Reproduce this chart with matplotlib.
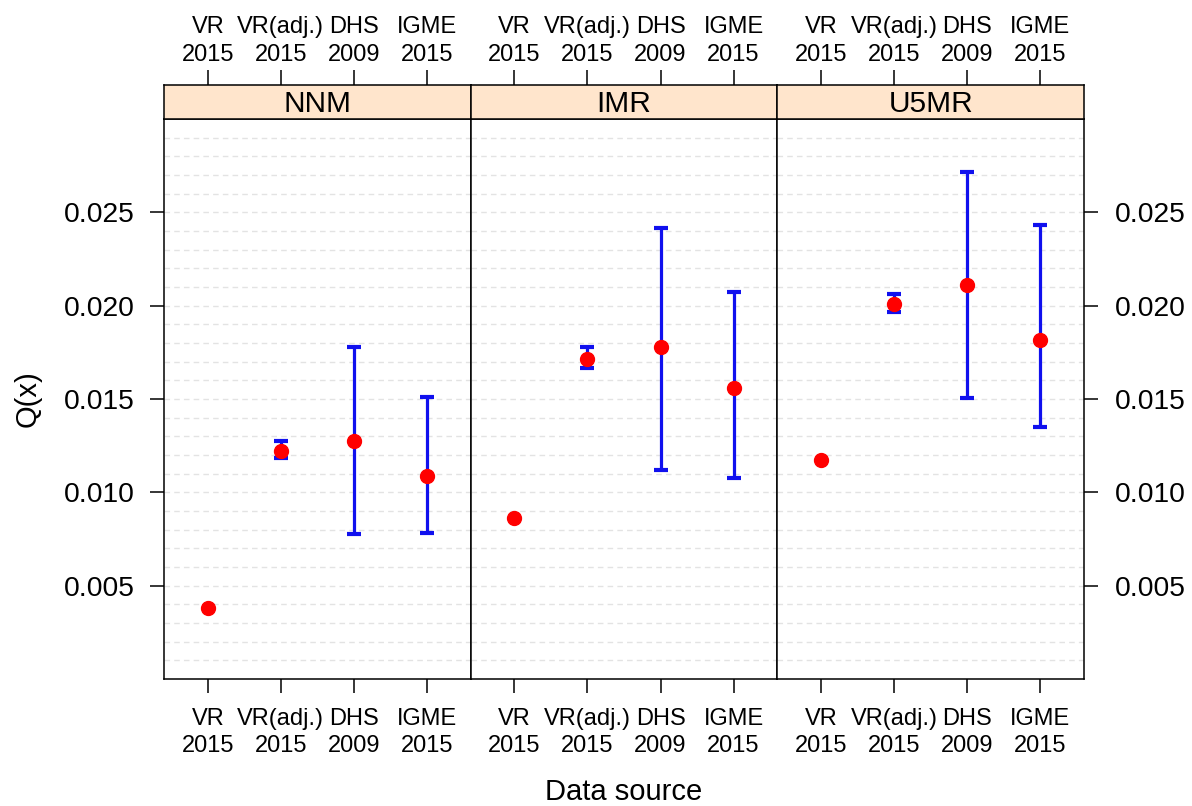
import matplotlib
matplotlib.use("Agg")
import matplotlib.pyplot as plt
import numpy as np

plt.rcParams['font.family'] = ['Liberation Sans', 'DejaVu Sans']

panels = ["NNM", "IMR", "U5MR"]
sources = ["VR\n2015", "VR(adj.)\n2015", "DHS\n2009", "IGME\n2015"]

est = {
    "NNM":  [0.00382, 0.01221, 0.01277, 0.01090],
    "IMR":  [0.00861, 0.01712, 0.01778, 0.01560],
    "U5MR": [0.01171, 0.02007, 0.02112, 0.01816],
}
lower = {
    "NNM":  [None, 0.01185, 0.00775, 0.00780],
    "IMR":  [None, 0.01664, 0.01120, 0.01078],
    "U5MR": [None, 0.01964, 0.01503, 0.01350],
}
upper = {
    "NNM":  [None, 0.01274, 0.01778, 0.01510],
    "IMR":  [None, 0.01777, 0.02414, 0.02071],
    "U5MR": [None, 0.02064, 0.02718, 0.02430],
}

yticks = [0.005, 0.010, 0.015, 0.020, 0.025]
ytick_labels = ["0.005", "0.010", "0.015", "0.020", "0.025"]

W, H = 1192, 806
fig = plt.figure(figsize=(W / 100, H / 100), dpi=100)

left_px, right_px = 164, 1084
top_px, bot_px = 119, 679
strip_top = 85
pw = (right_px - left_px) / 3

xpos = np.arange(1, len(sources) + 1)
strip_col = "#ffe5cc"
tick_fs = 17
ytick_fs = 20.3
lab_fs = 21
strip_fs = 21.5
lsp = 1.3

for i, p in enumerate(panels):
    x0 = (left_px + i * pw) / W
    ax = fig.add_axes([x0, 1 - bot_px / H, pw / W, (bot_px - top_px) / H])
    ax.set_xlim(0.4, 4.6)
    ax.set_ylim(0.0, 0.0300)
    for g in np.arange(0.001, 0.0300, 0.001):
        ax.axhline(g, color="#e3e3e3", lw=1.0, ls=(0, (4, 3)), zorder=0)
    e = np.array(est[p])
    for j in range(len(sources)):
        if lower[p][j] is not None:
            ax.errorbar(xpos[j], e[j],
                        yerr=[[e[j] - lower[p][j]], [upper[p][j] - e[j]]],
                        fmt="none", ecolor="#1010ee", elinewidth=2.3,
                        capsize=4.8, capthick=3.0, zorder=2)
    ax.plot(xpos, e, "o", color="#ff0000", markersize=10, mec="#ff0000", zorder=3)
    ax.set_xticks(xpos)
    ax.set_xticklabels(sources, fontsize=tick_fs, linespacing=lsp)
    ax.tick_params(axis="x", direction="out", length=10, width=1.1, pad=11)
    for s in ax.spines.values():
        s.set_linewidth(1.1)
    ax.set_yticks(yticks)
    if i == 0:
        ax.set_yticklabels(ytick_labels, fontsize=ytick_fs)
        ax.tick_params(axis="y", left=True, right=False, length=10, width=1.1, pad=11)
        ax.set_ylabel("Q(x)", fontsize=lab_fs, labelpad=16)
    elif i == 2:
        ax.yaxis.tick_right()
        ax.set_yticklabels(ytick_labels, fontsize=ytick_fs)
        ax.tick_params(axis="y", left=False, right=True, length=10, width=1.1, pad=12)
    else:
        ax.tick_params(axis="y", left=False, right=False, labelleft=False)
    if i == 1:
        ax.set_xlabel("Data source", fontsize=lab_fs, labelpad=15)

    sax = fig.add_axes([x0, 1 - top_px / H, pw / W, (top_px - strip_top) / H])
    sax.set_facecolor(strip_col)
    sax.set_xlim(0.4, 4.6)
    sax.set_ylim(0, 1)
    sax.set_yticks([])
    sax.xaxis.tick_top()
    sax.set_xticks(xpos)
    sax.set_xticklabels(sources, fontsize=tick_fs, linespacing=lsp)
    sax.tick_params(axis="x", direction="out", length=11, width=1.1, pad=3)
    for s in sax.spines.values():
        s.set_linewidth(1.1)
    sax.text(2.5, 0.45, p, ha="center", va="center", fontsize=strip_fs)

fig.savefig("out.png", dpi=100)
